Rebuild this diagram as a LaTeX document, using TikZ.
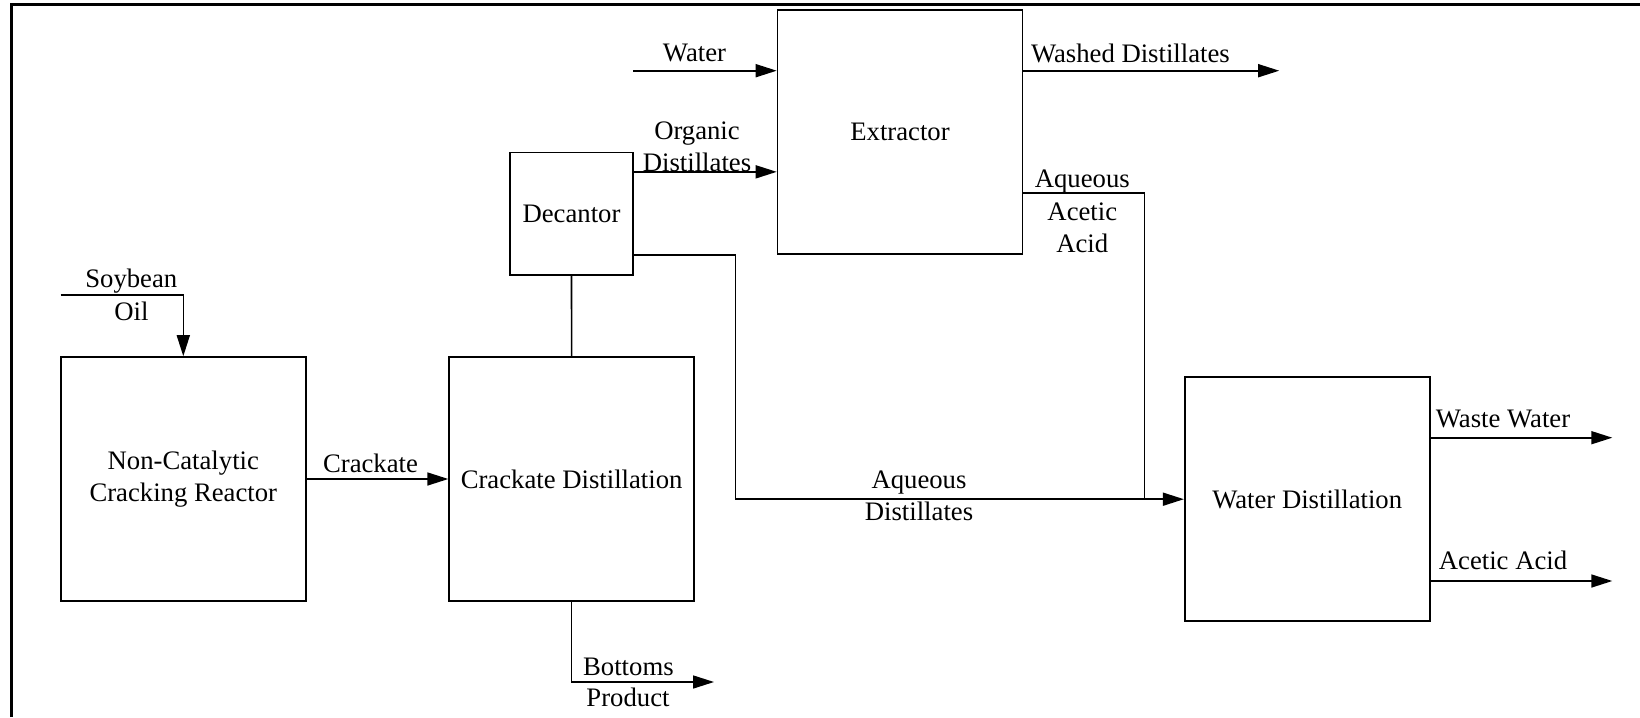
\documentclass[tikz,border=0pt]{standalone}
\usepackage{fontspec}
\setmainfont{Liberation Serif}
\usetikzlibrary{arrows.meta,calc}
\begin{document}
\begin{tikzpicture}[x=1pt,y=-1pt,
  every node/.style={font=\fontsize{26.7}{32}\selectfont, inner sep=0pt},
  unit/.style={draw, line width=1.6pt, minimum width=245pt, minimum height=244pt, align=center},
  flow/.style={line width=1.6pt},
  arr/.style={flow, -{Triangle[length=21pt,width=13pt]}},
  lbl/.style={anchor=base},
]
\useasboundingbox (0,0) rectangle (1640,717);
\draw[line width=2.5pt] (11.5,717) -- (11.5,4.7) -- (1640,4.7);

% units
\node[unit] (reactor) at (183.3,479) {Non-Catalytic\\Cracking Reactor};
\node[unit] (crack) at (571.6,479) {Crackate Distillation};
\node[unit, minimum width=123pt, minimum height=122.3pt] (dec) at (571.5,213.8) {Decantor};
\node[unit] (ext) at (900,132) {Extractor};
\node[unit] (wd) at (1307.2,499.2) {Water Distillation};

% stream end points
\coordinate (soyin) at (60.7,294.7);
\coordinate (waterin) at (633,70.7);
\coordinate (orgout) at ($(dec.north east)+(0,20)$);
\coordinate (aqout) at ($(dec.south east)+(0,-21)$);
\coordinate (aqbend) at (735.3,254);
\coordinate (washout) at (1279.2,70.7);
\coordinate (aaout) at (1022.4,192.7);
\coordinate (aajoin) at (1144.3,499.2);
\coordinate (wwend) at (1612.3,437.7);
\coordinate (acend) at (1612.3,581);
\coordinate (botend) at (714,682);

% streams
\draw[arr] (soyin) -| (reactor.north);
\draw[arr] (reactor.east) -- (crack.west);
\draw[flow] (dec.south) -- (crack.north);
\draw[arr] (crack.south) |- (botend);
\draw[arr] (waterin) -- (waterin -| ext.west);
\draw[arr] (orgout) -- (orgout -| ext.west);
\draw[arr] (aqout) -- (aqout -| aqbend) |- (wd.west);
\draw[arr] (ext.east |- washout) -- (washout);
\draw[flow] (ext.east |- aaout) -| (aajoin);
\draw[arr] (wd.east |- wwend) -- (wwend);
\draw[arr] (wd.east |- acend) -- (acend);

% labels
\node[lbl] (lwater) at (694.5,61.5) {Water};
\node[lbl] (lorg1) at (697,139) {Organic};
\node[lbl] (lorg2) at (697,171) {Distillates};
\node[anchor=base west] (lwash) at (1030.8,63) {Washed Distillates};
\node[lbl] (laa1) at (1082.3,187) {Aqueous};
\node[lbl] (laa2) at (1082.3,220) {Acetic};
\node[lbl] (laa3) at (1082.3,252) {Acid};
\node[lbl] (lsoy1) at (131.3,287) {Soybean};
\node[lbl] (lsoy2) at (131.5,320) {Oil};
\node[lbl] (lcrack) at (370.5,472) {Crackate};
\node[lbl] (lbot1) at (628.4,675) {Bottoms};
\node[lbl] (lbot2) at (628,706) {Product};
\node[lbl] (lad1) at (919,488.5) {Aqueous};
\node[lbl] (lad2) at (919,520.5) {Distillates};
\node[lbl] (lww) at (1503,427.7) {Waste Water};
\node[lbl] (lacid) at (1503,569) {Acetic Acid};
\end{tikzpicture}
\end{document}
